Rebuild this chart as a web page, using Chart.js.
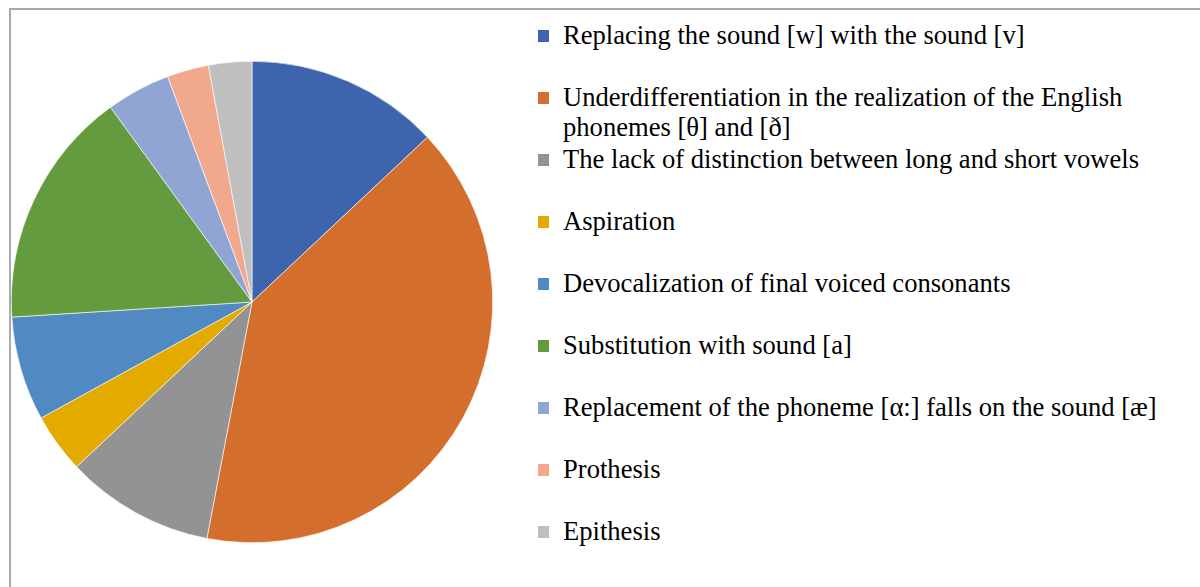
<!DOCTYPE html>
<html>
<head>
<meta charset="utf-8">
<script src="https://cdn.jsdelivr.net/npm/chart.js@4/dist/chart.umd.min.js"></script>
<style>
  html, body { margin: 0; padding: 0; background: #fff; overflow: hidden; }
  body { width: 1200px; height: 587px; position: relative; }
  #frame { position: absolute; left: 9px; top: 8px; width: 1300px; height: 700px; border: 2px solid #aaaaaa; box-sizing: border-box; }
  #pieBox { position: absolute; left: 11px; top: 61px; width: 482px; height: 482px; }
  #legend { position: absolute; left: 538px; top: 0; width: 660px; font-family: "Liberation Serif", "Times New Roman", serif; font-size: 26.6px; color: #000; }
  .item { position: absolute; left: 0; width: 640px; line-height: 30px; }
  .box { position: absolute; left: 0; top: 10px; width: 11px; height: 12px; }
  .txt { margin-left: 25px; }
</style>
</head>
<body>
<div id="frame"></div>
<div id="pieBox"><canvas id="myChart" width="482" height="482"></canvas></div>
<div id="legend"></div>
<script>
const labels = [
    'Replacing the sound [w] with the sound [v]',
    'Underdifferentiation in the realization of the English phonemes [θ] and [ð]',
    'The lack of distinction between long and short vowels',
    'Aspiration',
    'Devocalization of final voiced consonants',
    'Substitution with sound [a]',
    'Replacement of the phoneme [α:] falls on the sound [æ]',
    'Prothesis',
    'Epithesis'
];
const values = [13, 40, 10, 4, 7, 16, 4.3, 2.8, 2.9];
const colors = ['#3d64ad', '#d46e2c', '#939393', '#e3ab00', '#5189c2', '#649b3f', '#91a5d4', '#f0a98c', '#bfbfbf'];

const ctx = document.getElementById('myChart').getContext('2d');
const myChart = new Chart(ctx, {
    type: 'pie',
    data: {
        labels: labels,
        datasets: [{
            data: values,
            backgroundColor: colors,
            borderColor: '#ffffff',
            borderWidth: 0.6
        }]
    },
    options: {
        responsive: false,
        animation: false,
        layout: { padding: 0 },
        plugins: {
            legend: { display: false },
            tooltip: { enabled: false }
        }
    }
});

// legend drawn as html so the long label can wrap like the original
const legend = document.getElementById('legend');
labels.forEach((text, i) => {
    const item = document.createElement('div');
    item.className = 'item';
    item.style.top = (20 + 62 * i) + 'px';
    const box = document.createElement('div');
    box.className = 'box';
    box.style.background = colors[i];
    const txt = document.createElement('div');
    txt.className = 'txt';
    txt.textContent = text;
    item.appendChild(box);
    item.appendChild(txt);
    legend.appendChild(item);
});
</script>
</body>
</html>
